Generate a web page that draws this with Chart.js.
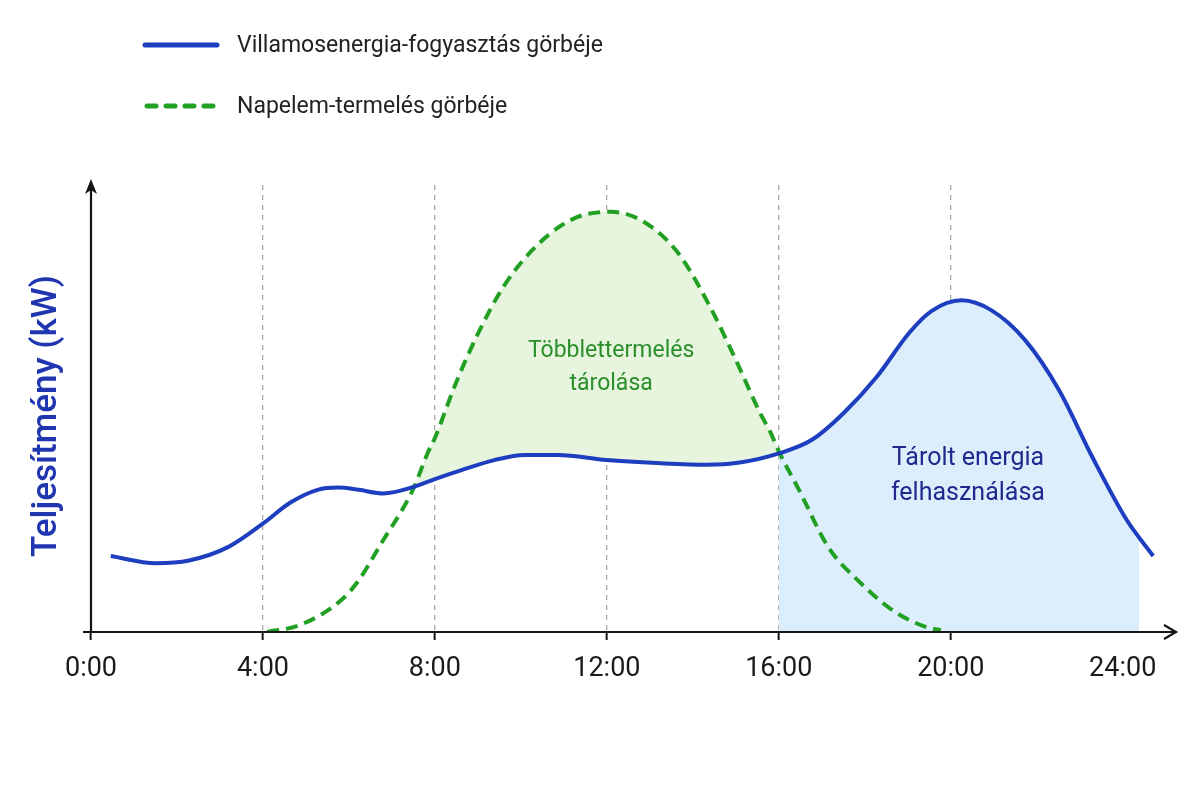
<!DOCTYPE html>
<html>
<head>
<meta charset="utf-8">
<script src="https://cdn.jsdelivr.net/npm/chart.js@4.4.0/dist/chart.umd.min.js"></script>
<style>
  html, body { margin: 0; padding: 0; background: #fff; }
  #wrap { width: 1200px; height: 800px; position: relative; }
</style>
</head>
<body>
<div id="wrap"><canvas id="chart" width="1200" height="800"></canvas></div>
<script>
// values (hours, kW)
const consumptionHours = [0.46, 1.50, 2.28, 3.21, 4.02, 4.63, 5.27, 5.75, 6.23, 6.80, 7.52, 8.00, 8.62, 9.40, 10.09, 10.86, 11.99, 13.17, 14.32, 15.09, 16.02, 16.77, 17.51, 18.28, 19.03, 19.55, 20.25, 20.94, 21.73, 22.52, 23.29, 24.09, 24.71];
const consumptionKw = [1.70, 1.54, 1.60, 1.91, 2.44, 2.89, 3.18, 3.23, 3.18, 3.10, 3.25, 3.42, 3.62, 3.85, 3.96, 3.96, 3.85, 3.78, 3.74, 3.79, 4.00, 4.30, 4.90, 5.71, 6.69, 7.18, 7.42, 7.20, 6.53, 5.41, 3.92, 2.51, 1.70];

const solarHours = [4.10, 4.87, 5.83, 6.23, 6.80, 7.28, 7.52, 7.83, 8.00, 8.48, 8.99, 9.61, 10.45, 11.28, 12.10, 12.82, 13.64, 14.36, 14.97, 15.59, 15.79, 16.02, 16.47, 17.15, 17.90, 18.64, 19.40, 19.77];
const solarKw = [0.00, 0.16, 0.72, 1.16, 2.06, 2.80, 3.25, 4.00, 4.34, 5.55, 6.65, 7.75, 8.72, 9.27, 9.40, 9.20, 8.50, 7.35, 6.15, 4.85, 4.50, 4.00, 3.18, 1.90, 1.10, 0.49, 0.12, 0.04];

const storageFrom = 16;
const storageTo = 24.38;

const hourTicks = [0, 4, 8, 12, 16, 20, 24];
const tickLabels = ['0:00', '4:00', '8:00', '12:00', '16:00', '20:00', '24:00'];

const legendLabels = ['Villamosenergia-fogyasztás görbéje', 'Napelem-termelés görbéje'];
const surplusLabel = ['Többlettermelés', 'tárolása'];
const storedLabel = ['Tárolt energia', 'felhasználása'];
const yTitle = 'Teljesítmény (kW)';

const BLUE = '#1c3ebf';
const GREEN = '#22a024';
const FONT = 'Roboto, "Noto Sans", sans-serif';

const consumption = consumptionHours.map((h, i) => ({ x: h, y: consumptionKw[i] }));
const solar = solarHours.map((h, i) => ({ x: h, y: solarKw[i] }));

// clips the storage fill (dataset 2) to the evening window
const storageClip = {
    id: 'storageClip',
    beforeDatasetsDraw(chart) {
        const xs = chart.scales.x;
        const a = chart.chartArea;
        const x1 = xs.getPixelForValue(storageFrom);
        const x2 = xs.getPixelForValue(storageTo);
        chart.ctx.save();
        chart.ctx.beginPath();
        chart.ctx.rect(x1, a.top - 10, x2 - x1, a.bottom - a.top + 10);
        chart.ctx.clip();
    },
    afterDatasetDraw(chart, args) {
        if (args.index === 2) chart.ctx.restore();
    }
};

const decorations = {
    id: 'decorations',
    afterDatasetsDraw(chart) {
        const ctx = chart.ctx;
        const a = chart.chartArea;
        const xs = chart.scales.x;
        const ys = chart.scales.y;

        // axes with arrows
        ctx.save();
        ctx.strokeStyle = '#151515';
        ctx.fillStyle = '#151515';
        ctx.lineWidth = 2.2;
        ctx.beginPath();
        ctx.moveTo(a.left - 8, a.bottom);
        ctx.lineTo(a.right + 4, a.bottom);
        ctx.moveTo(a.left, a.bottom);
        ctx.lineTo(a.left, a.top - 2);
        ctx.stroke();
        // x arrow (open chevron)
        ctx.beginPath();
        ctx.moveTo(a.right - 6, a.bottom - 7);
        ctx.lineTo(a.right + 6, a.bottom);
        ctx.lineTo(a.right - 6, a.bottom + 7);
        ctx.stroke();
        // y arrow (filled)
        ctx.beginPath();
        ctx.moveTo(a.left, a.top - 6);
        ctx.lineTo(a.left + 6, a.top + 9);
        ctx.lineTo(a.left, a.top + 5);
        ctx.lineTo(a.left - 6, a.top + 9);
        ctx.closePath();
        ctx.fill();
        ctx.restore();

        // area labels
        ctx.save();
        ctx.textAlign = 'center';
        ctx.textBaseline = 'middle';
        ctx.font = '23px ' + FONT;
        ctx.fillStyle = '#2a8f2a';
        surplusLabel.forEach((t, i) => ctx.fillText(t, xs.getPixelForValue(12.1), ys.getPixelForValue(6.27) + i * 33));
        ctx.font = '25px ' + FONT;
        ctx.fillStyle = '#1f2a8e';
        storedLabel.forEach((t, i) => ctx.fillText(t, xs.getPixelForValue(20.4), ys.getPixelForValue(3.88) + i * 35));
        ctx.restore();

        // y axis title
        ctx.save();
        ctx.translate(47, 416);
        ctx.rotate(-Math.PI / 2);
        ctx.font = '500 35px ' + FONT;
        ctx.fillStyle = '#2035b0';
        ctx.textAlign = 'center';
        ctx.textBaseline = 'middle';
        ctx.fillText(yTitle, 0, 0);
        ctx.restore();

        // legend
        ctx.save();
        ctx.lineWidth = 5;
        ctx.lineCap = 'round';
        ctx.strokeStyle = BLUE;
        ctx.beginPath();
        ctx.moveTo(145, 45);
        ctx.lineTo(217, 45);
        ctx.stroke();
        ctx.strokeStyle = GREEN;
        ctx.setLineDash([9, 10]);
        ctx.beginPath();
        ctx.moveTo(147, 106);
        ctx.lineTo(219, 106);
        ctx.stroke();
        ctx.setLineDash([]);
        ctx.font = '23px ' + FONT;
        ctx.fillStyle = '#222';
        ctx.textBaseline = 'middle';
        ctx.fillText(legendLabels[0], 237, 46);
        ctx.fillText(legendLabels[1], 237, 107);
        ctx.restore();
    }
};

new Chart(document.getElementById('chart'), {
    type: 'line',
    data: {
        datasets: [
            {
                label: legendLabels[0],
                data: consumption,
                borderColor: BLUE,
                borderWidth: 4,
                pointRadius: 0,
                cubicInterpolationMode: 'monotone',
                fill: false,
                order: 0
            },
            {
                label: legendLabels[1],
                data: solar,
                borderColor: GREEN,
                borderWidth: 4,
                borderDash: [12, 7],
                pointRadius: 0,
                cubicInterpolationMode: 'monotone',
                fill: { target: 0, above: '#e7f5df', below: 'rgba(0,0,0,0)' },
                order: 1
            },
            {
                label: 'storage',
                data: consumption,
                borderWidth: 0,
                borderColor: 'rgba(0,0,0,0)',
                backgroundColor: '#dcedfc',
                pointRadius: 0,
                cubicInterpolationMode: 'monotone',
                fill: 'origin',
                order: 2
            }
        ]
    },
    options: {
        responsive: false,
        animation: false,
        layout: { padding: { top: 185, left: 91, right: 30, bottom: 0 } },
        plugins: {
            legend: { display: false },
            tooltip: { enabled: false }
        },
        scales: {
            x: {
                type: 'linear',
                min: 0,
                max: 25.1,
                afterBuildTicks: scale => { scale.ticks = hourTicks.map(v => ({ value: v })); },
                afterFit: scale => { scale.height = 168; },
                ticks: {
                    autoSkip: false,
                    maxRotation: 0,
                    padding: 13,
                    color: '#1a1a1a',
                    font: { family: FONT, size: 27 },
                    callback: (v) => tickLabels[hourTicks.indexOf(v)]
                },
                grid: {
                    color: c => (c.tick && c.tick.value > 0 && c.tick.value < 24) ? '#a9a9a9' : 'rgba(0,0,0,0)',
                    lineWidth: 1.3,
                    tickColor: c => (c.tick && c.tick.value < 24) ? '#151515' : 'rgba(0,0,0,0)',
                    tickLength: 8,
                    tickWidth: 2
                },
                border: { display: false, dash: [5, 5] }
            },
            y: {
                display: false,
                min: 0,
                max: 10
            }
        }
    },
    plugins: [storageClip, decorations]
});
</script>
</body>
</html>
